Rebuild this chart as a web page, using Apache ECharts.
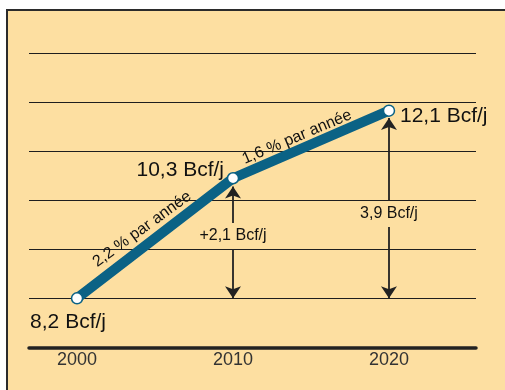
<!DOCTYPE html>
<html>
<head>
<meta charset="utf-8">
<script src="https://cdn.jsdelivr.net/npm/echarts@6/dist/echarts.min.js"></script>
<style>
  html, body { margin: 0; padding: 0; background: #fff; }
  #chart { width: 505px; height: 390px; }
</style>
</head>
<body>
<div id="chart"></div>
<script>
// ================= data =================
const years = [2000, 2010, 2020]
// height of each point as drawn against the gridlines
const plotValues = [8.2, 10.65, 12.03]
const valueLabels = ['8,2 Bcf/j', '10,3 Bcf/j', '12,1 Bcf/j']
const tickYears = [2000, 2010, 2020]
const rateLabels = ['2,2 % par année', '1,6 % par année']
const gainLabels = ['+2,1 Bcf/j', '3,9 Bcf/j']
// arrows: year, top value, bottom value
const arrowYears = [2010, 2020]
const arrowTops = [10.48, 11.88]
const arrowBottom = 8.2

const BG = '#FDDFA1'
const TEAL = '#0B6285'
const FONT = '"Liberation Sans", Arial, sans-serif'

const chart = echarts.init(document.getElementById('chart'))

// per-point label placement
const valueLabelStyle = [
  { align: 'center', offset: [-9, 24] },
  { align: 'right', offset: [-9, -8] },
  { align: 'left', offset: [11, 6] }
]

const lineData = years.map((y, i) => ({
  value: [y, plotValues[i]],
  label: {
    show: true,
    position: 'inside',
    formatter: valueLabels[i],
    align: valueLabelStyle[i].align,
    verticalAlign: 'middle',
    offset: valueLabelStyle[i].offset,
    fontSize: 21,
    color: '#111',
    fontFamily: FONT
  }
}))

// annotation anchors (rotated rate texts + arrow texts)
const rateAnchors = [[2004.17, 9.61, 36], [2014.1, 11.49, 23]]
const gainAnchors = [[2010, 9.47], [2020, 9.92]]

const noteData = [
  ...rateAnchors.map((a, i) => ({
    value: [a[0], a[1]],
    label: {
      show: true, position: 'inside', formatter: rateLabels[i],
      rotate: a[2], fontSize: 16, color: '#111', fontFamily: FONT
    }
  })),
  ...gainAnchors.map((a, i) => ({
    value: a,
    label: {
      show: true, position: 'inside', formatter: gainLabels[i],
      fontSize: 16, color: '#111', fontFamily: FONT,
      backgroundColor: BG, padding: [5, 1]
    }
  }))
]

const arrowData = arrowYears.map((y, i) => [
  { coord: [y, arrowTops[i]] },
  { coord: [y, arrowBottom] }
])

const option = {
  animation: false,
  graphic: [
    {
      type: 'rect',
      left: 6, top: 9,
      shape: { width: 520, height: 400 },
      style: { fill: BG, stroke: '#2b2b2b', lineWidth: 2 },
      z: -10
    }
  ],
  grid: { left: 29, right: 29, top: 53.3, bottom: 42.7 },
  xAxis: {
    type: 'value',
    min: 1996.92,
    max: 2025.58,
    splitLine: { show: false },
    axisTick: { show: false },
    axisLine: { show: true, lineStyle: { color: '#222', width: 3.5 } },
    axisLabel: {
      customValues: tickYears,
      formatter: (v) => String(v),
      margin: 4,
      fontSize: 18,
      color: '#333',
      fontFamily: FONT
    }
  },
  yAxis: {
    type: 'value',
    min: 7.2,
    max: 13.2,
    interval: 1,
    axisLine: { show: false },
    axisTick: { show: false },
    axisLabel: { show: false },
    splitLine: { lineStyle: { color: '#1e1e1e', width: 1.2 } }
  },
  series: [
    {
      type: 'line',
      data: [],
      z: 3,
      markLine: {
        silent: true,
        symbol: ['arrow', 'arrow'],
        symbolSize: 12,
        label: { show: false },
        lineStyle: { color: '#222', width: 1.8, type: 'solid' },
        data: arrowData
      }
    },
    {
      type: 'line',
      data: lineData,
      z: 4,
      lineStyle: { color: TEAL, width: 10, cap: 'round', join: 'round' },
      symbol: 'circle',
      symbolSize: 11,
      itemStyle: { color: '#fff', borderColor: TEAL, borderWidth: 1.5 }
    },
    {
      type: 'scatter',
      data: noteData,
      symbolSize: 0,
      itemStyle: { opacity: 1 },
      z: 5
    }
  ]
}

chart.setOption(option)
</script>
</body>
</html>
